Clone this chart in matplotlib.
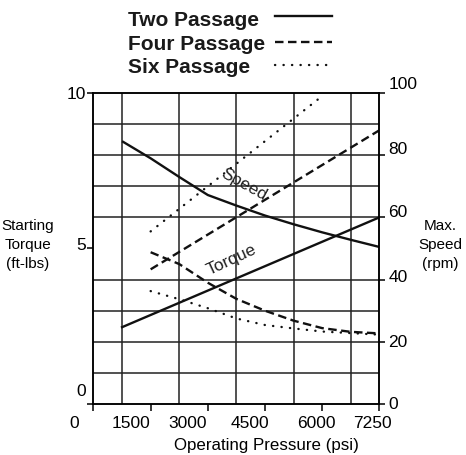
import numpy as np
import matplotlib
matplotlib.use("Agg")
import matplotlib.pyplot as plt
from matplotlib.lines import Line2D
from matplotlib.transforms import ScaledTranslation

plt.rcParams['font.family'] = ['Liberation Sans', 'DejaVu Sans']

# x axis: ticks are evenly spaced on the chart, even though 7250 is not
PSI_TICKS = [0, 1500, 3000, 4500, 6000, 7250]
PSI_GRID = [0, 750, 1500, 2250, 3000, 3750, 4500, 5250, 6000, 6625, 7250]
TICK_POS = [0, 2, 4, 6, 8, 10]

# starting torque (ft-lbs), left axis
torque_two_psi = [750, 1500, 2250, 3000, 3750, 4500, 5250, 6000, 6625, 7250]
torque_two = [8.45, 7.9, 7.3, 6.72, 6.38, 6.06, 5.78, 5.52, 5.28, 5.05]
torque_multi_psi = [1500, 2250, 3000, 3750, 4500, 5250, 6000, 6625, 7250]
torque_four = [4.88, 4.5, 3.9, 3.38, 3.0, 2.68, 2.44, 2.32, 2.27]
torque_six = [3.63, 3.37, 3.08, 2.75, 2.54, 2.43, 2.33, 2.28, 2.23]

# max speed (rpm), right axis
speed_two_psi = [750, 7250]
speed_two = [24.7, 60]
speed_four_psi = [1500, 7250]
speed_four = [43.3, 88]
speed_six_psi = [1500, 6000]
speed_six = [55.5, 99]

LEFT_TICKS = [0, 5, 10]
RIGHT_TICKS = [0, 20, 40, 60, 80, 100]

# label nudges in px (the source artwork has them off the ticks)
X_LABEL_SHIFT = [-19, -20, -20, -15, -6, -7]
LEFT_LABEL_SHIFT = [14, 4, 0]
RIGHT_LABEL_SHIFT = [1, 1, 4, 6, 7, 10]

SOLID = dict(lw=1.7)
DASHED = dict(lw=1.7, dashes=(3.6, 1.9))
DOTTED = dict(lw=1.7, dashes=(0.1, 3.5), dash_capstyle='round')


def fwd(x):
    return np.interp(x, PSI_TICKS, TICK_POS)


def inv(u):
    return np.interp(u, TICK_POS, PSI_TICKS)


fig = plt.figure(figsize=(4.66, 4.55), dpi=100)
ax = fig.add_axes([0.2006, 0.1121, 0.6133, 0.6835])
ax.set_xscale('function', functions=(fwd, inv))
ax.set_xlim(0, 7250)
ax.set_ylim(0, 10)
ax2 = ax.twinx()
ax2.set_ylim(0, 100)

# grid
ax.set_xticks(PSI_GRID, minor=True)
ax.set_yticks(np.arange(0, 11, 1), minor=True)
ax.grid(True, which='minor', color='#222222', lw=1.1)
ax.tick_params(which='minor', length=0)

ax.set_xticks(PSI_TICKS, [str(p) for p in PSI_TICKS])
ax.set_yticks(LEFT_TICKS, [str(v) for v in LEFT_TICKS])
ax.tick_params(axis='x', which='major', length=5, width=1.1, labelsize=12.5, pad=4)
ax.tick_params(axis='y', which='major', length=4, width=1.1, labelsize=12.5, pad=1.5)
for sp in ax.spines.values():
    sp.set_linewidth(1.1)

ax.plot(torque_two_psi, torque_two, color='#111111', solid_capstyle='butt', **SOLID)
ax.plot(torque_multi_psi, torque_four, color='#111111', **DASHED)
ax.plot(torque_multi_psi, torque_six, color='#111111', **DOTTED)

ax2.set_yticks(RIGHT_TICKS, [str(v) for v in RIGHT_TICKS])
ax2.tick_params(axis='y', length=4, width=1.1, labelsize=12.5, pad=2.5)
for sp in ax2.spines.values():
    sp.set_linewidth(1.1)
ax2.plot(speed_two_psi, speed_two, color='#111111', **SOLID)
ax2.plot(speed_four_psi, speed_four, color='#111111', **DASHED)
ax2.plot(speed_six_psi, speed_six, color='#111111', **DOTTED)

# in-plot curve labels
ax.text(3945, 7.04, 'Speed', fontsize=12.5, rotation=-29, ha='center', va='center',
        rotation_mode='anchor', color='#222222')
ax.text(3630, 4.63, 'Torque', fontsize=12.5, rotation=25, ha='center', va='center',
        rotation_mode='anchor', color='#222222')

# nudge tick labels to where the source puts them
for lab, dx in zip(ax.get_xticklabels(), X_LABEL_SHIFT):
    lab.set_transform(lab.get_transform() + ScaledTranslation(dx / 100, 0, fig.dpi_scale_trans))
for lab, dy in zip(ax.get_yticklabels(), LEFT_LABEL_SHIFT):
    lab.set_transform(lab.get_transform() + ScaledTranslation(0, dy / 100, fig.dpi_scale_trans))
for lab, dy in zip(ax2.get_yticklabels(), RIGHT_LABEL_SHIFT):
    lab.set_transform(lab.get_transform() + ScaledTranslation(0, dy / 100, fig.dpi_scale_trans))

ax.set_xlabel('Operating Pressure (psi)', fontsize=12.2)
ax.xaxis.set_label_coords(0.605, -0.132)
ax.xaxis.label.set_va('center')
ax.set_ylabel('Starting\nTorque\n(ft-lbs)', fontsize=11, rotation=0,
              ha='center', va='center', linespacing=1.45)
ax.yaxis.set_label_coords(-0.229, 0.511)
ax2.set_ylabel('Max.\nSpeed\n(rpm)', fontsize=11, rotation=0,
               ha='center', va='center', linespacing=1.45)
ax2.yaxis.set_label_coords(1.212, 0.511)

# legend: bold names on the left, line samples on the right
H = 455.0
W = 466.0
names = ['Two Passage', 'Four Passage', 'Six Passage']
base_y = [26, 50, 73]
line_y = [15.7, 42.3, 65]
for name, by, ly, st in zip(names, base_y, line_y, [SOLID, DASHED, DOTTED]):
    fig.text(128 / W, 1 - by / H, name, fontsize=15, fontweight='bold',
             va='baseline', ha='left', color='#1a1a1a')
    fig.add_artist(Line2D([275 / W, 332 / W], [1 - ly / H, 1 - ly / H],
                          color='#111111', **st))

fig.savefig('out.png', dpi=100)
